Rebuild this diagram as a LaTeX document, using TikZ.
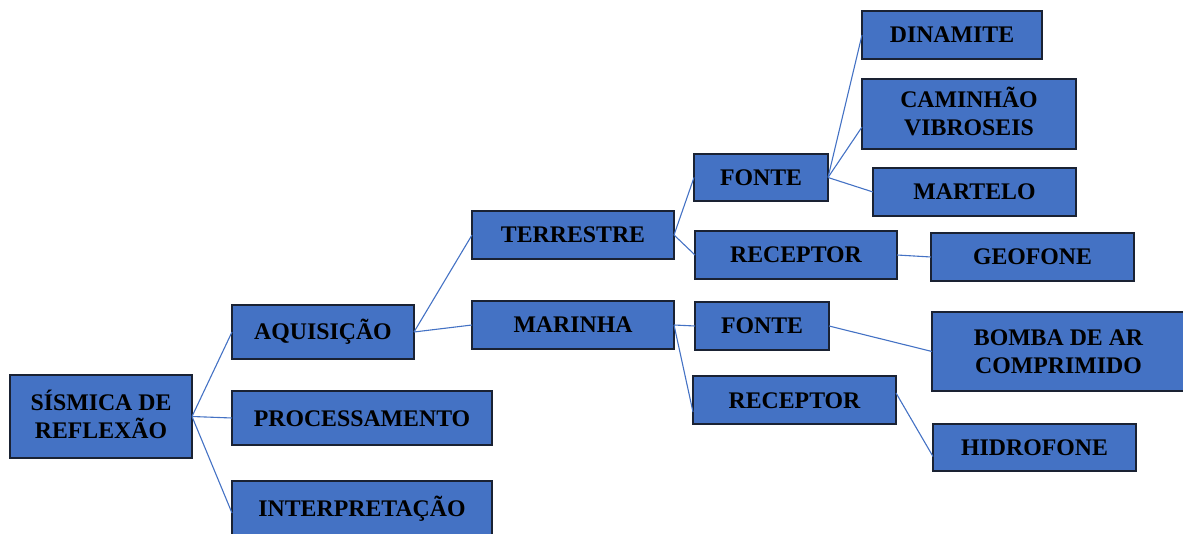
\documentclass[tikz,border=0pt]{standalone}
\usepackage{fontspec}
\setmainfont{Liberation Serif}
\definecolor{boxblue}{HTML}{4472C4}
\definecolor{boxline}{HTML}{1A2233}
\definecolor{edgeblue}{HTML}{4472C4}
\begin{document}
\begin{tikzpicture}[x=1pt,y=-1pt,
  box/.style={draw=boxline,line width=1.4pt,fill=boxblue,anchor=north west,
    inner sep=0pt,outer sep=0pt,align=center,
    font=\fontsize{23.8}{28}\selectfont\bfseries,
    text height=16pt,text depth=0pt},
  twoline/.style={text height=44pt,text depth=0pt},
  edge/.style={draw=edgeblue,line width=1.1pt}]
\useasboundingbox (0,0) rectangle (1183,534);
\node[box,minimum width=182pt,minimum height=83pt,twoline] (root) at (10,375) {SÍSMICA DE\\REFLEXÃO};
\node[box,minimum width=182pt,minimum height=54pt] (aq) at (232,305) {AQUISIÇÃO};
\node[box,minimum width=260pt,minimum height=54pt] (proc) at (232,391) {PROCESSAMENTO};
\node[box,minimum width=260pt,minimum height=54pt] (interp) at (232,481) {INTERPRETAÇÃO};
\node[box,minimum width=202pt,minimum height=48pt] (terr) at (472,211) {TERRESTRE};
\node[box,minimum width=202pt,minimum height=48pt] (mar) at (472,301) {MARINHA};
\node[box,minimum width=134pt,minimum height=47pt] (fonte1) at (694,154) {FONTE};
\node[box,minimum width=202pt,minimum height=48pt] (rec1) at (695,231) {RECEPTOR};
\node[box,minimum width=134pt,minimum height=48pt] (fonte2) at (695,302) {FONTE};
\node[box,minimum width=203pt,minimum height=48pt] (rec2) at (693,376) {RECEPTOR};
\node[box,minimum width=180pt,minimum height=48pt] (din) at (862,11) {DINAMITE};
\node[box,minimum width=214pt,minimum height=70pt,twoline] (cam) at (862,79) {CAMINHÃO\\VIBROSEIS};
\node[box,minimum width=203pt,minimum height=48pt] (mart) at (873,168) {MARTELO};
\node[box,minimum width=203pt,minimum height=48pt] (geo) at (931,233) {GEOFONE};
\node[box,minimum width=253pt,minimum height=79pt,twoline] (bomba) at (932,312) {BOMBA DE AR\\COMPRIMIDO};
\node[box,minimum width=203pt,minimum height=47pt] (hid) at (933,424) {HIDROFONE};

\draw[edge] (root.east) -- (aq.west);
\draw[edge] (root.east) -- (proc.west);
\draw[edge] (root.east) -- ([yshift=-5pt]interp.west);
\draw[edge] (aq.east) -- (terr.west);
\draw[edge] (aq.east) -- (mar.west);
\draw[edge] (terr.east) -- (fonte1.west);
\draw[edge] (terr.east) -- (rec1.west);
\draw[edge] (fonte1.east) -- (din.west);
\draw[edge] (fonte1.east) -- ([yshift=-13pt]cam.west);
\draw[edge] (fonte1.east) -- (mart.west);
\draw[edge] (rec1.east) -- (geo.west);
\draw[edge] (mar.east) -- (fonte2.west);
\draw[edge] (mar.east) -- ([yshift=-12pt]rec2.west);
\draw[edge] (fonte2.east) -- (bomba.west);
\draw[edge] ([yshift=7pt]rec2.east) -- ([yshift=-9pt]hid.west);
\end{tikzpicture}
\end{document}
